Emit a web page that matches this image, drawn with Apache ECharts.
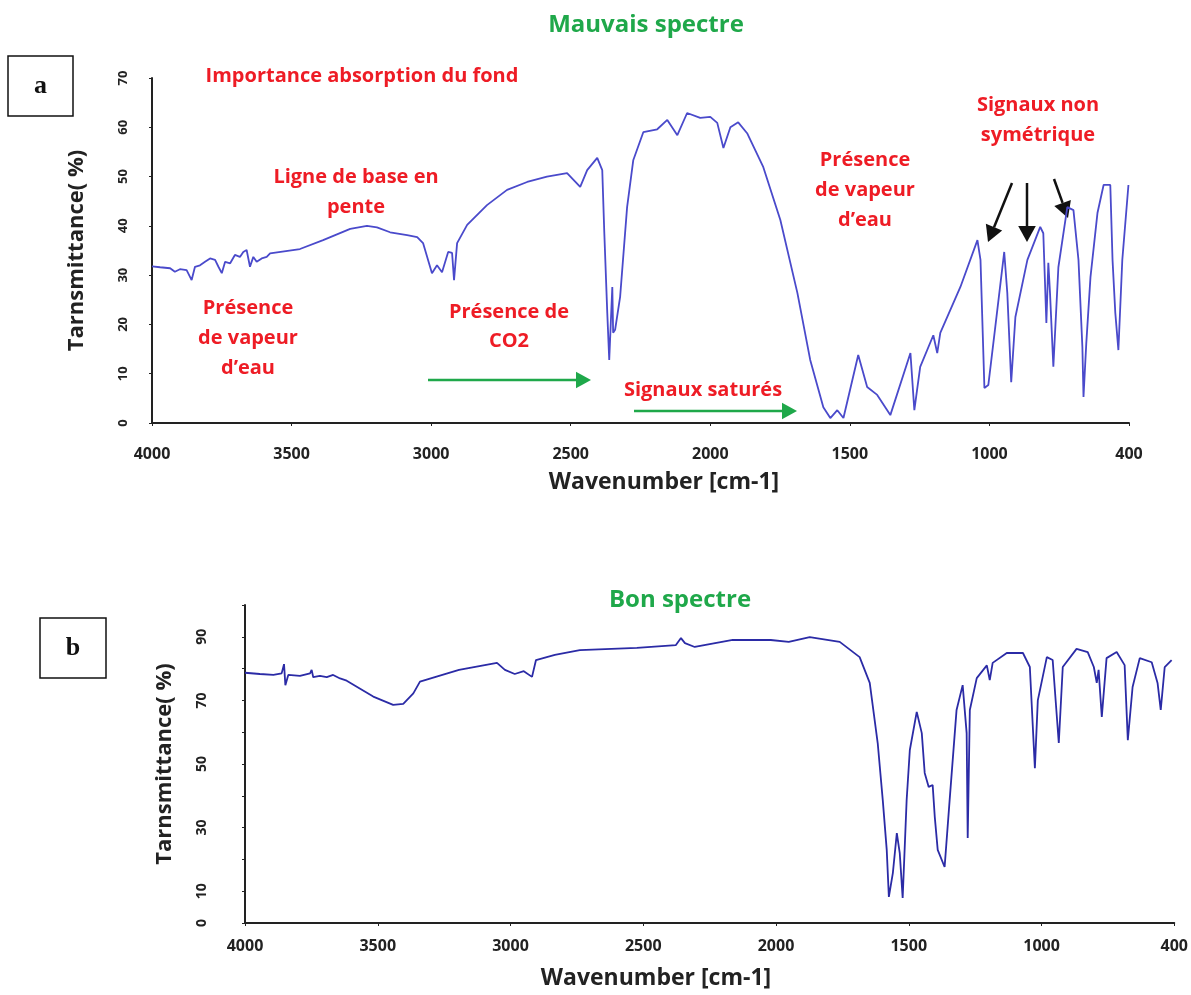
<!DOCTYPE html>
<html>
<head>
<meta charset="utf-8">
<title>Mauvais spectre / Bon spectre</title>
<script src="https://cdn.jsdelivr.net/npm/echarts@6.0.0/dist/echarts.min.js"></script>
<style>
  html, body { margin: 0; padding: 0; background: #fff; }
  #chart { width: 1191px; height: 995px; }
</style>
</head>
<body>
<div id="chart"></div>
<script>
// x ticks: the last tick sits where 500 would be but is labelled 400 in the original figure
var xTicks = [4000, 3500, 3000, 2500, 2000, 1500, 1000, 500]
var xTickLabels = ['4000', '3500', '3000', '2500', '2000', '1500', '1000', '400']
var bottomYLabels = [0, 10, 30, 50, 70, 90]

// spectrum a (mauvais spectre)
var badWn = [4000, 3971, 3935, 3918, 3900, 3876, 3858, 3846, 3828, 3810, 3792, 3774, 3762, 3750, 3738, 3720,
  3703, 3685, 3673, 3661, 3649, 3637, 3625, 3607, 3589, 3577, 3470, 3387, 3290, 3230, 3194, 3147, 3086, 3050,
  3029, 2997, 2979, 2961, 2939, 2925, 2918, 2907, 2871, 2800, 2728, 2656, 2585, 2513, 2466, 2441, 2405, 2387,
  2380, 2369, 2362, 2351, 2348, 2341, 2323, 2298, 2276, 2240, 2190, 2154, 2118, 2083, 2036, 2000, 1975, 1953,
  1928, 1900, 1868, 1810, 1749, 1688, 1642, 1595, 1570, 1545, 1523, 1470, 1438, 1402, 1355, 1283, 1269, 1248,
  1201, 1187, 1176, 1104, 1043, 1032, 1018, 1004, 979, 947, 936, 922, 907, 864, 818, 807, 796, 789, 783, 771,
  753, 721, 699, 681, 667, 663, 653, 638, 613, 591, 567, 559, 549, 538, 524, 502]
var badT = [31.8, 31.6, 31.4, 30.7, 31.2, 31.0, 29.0, 31.7, 32.0, 32.7, 33.4, 33.1, 31.7, 30.4, 32.7, 32.4,
  34.1, 33.7, 34.7, 35.1, 31.7, 33.7, 32.7, 33.4, 33.7, 34.4, 35.3, 37.1, 39.4, 40.0, 39.7, 38.7, 38.1, 37.7,
  36.5, 30.4, 32.0, 30.6, 34.7, 34.5, 29.0, 36.5, 40.2, 44.2, 47.3, 48.9, 50.0, 50.7, 47.9, 51.3, 53.8, 51.3,
  39.1, 22.3, 12.8, 27.6, 18.3, 18.9, 25.6, 43.8, 53.3, 59.0, 59.6, 61.5, 58.4, 62.9, 61.9, 62.1, 60.9, 55.8,
  60.0, 61.0, 58.8, 51.9, 41.2, 26.4, 12.8, 3.2, 1.0, 2.6, 1.0, 13.8, 7.3, 5.7, 1.6, 14.2, 2.6, 11.4,
  17.8, 14.2, 18.3, 27.6, 37.1, 33.1, 7.1, 7.7, 19.5, 34.7, 26.4, 8.3, 21.5, 33.1, 39.8, 38.5, 20.3, 32.5, 26.4, 11.4,
  31.6, 43.8, 43.2, 33.1, 15.4, 5.3, 16.2, 29.6, 42.6, 48.3, 48.3, 33.1, 22.3, 14.8, 33.1, 48.3]

// spectrum b (bon spectre)
var goodWn = [4000, 3944, 3893, 3862, 3853, 3848, 3837, 3793, 3755, 3749, 3743, 3718, 3692, 3668, 3642, 3617,
  3579, 3517, 3442, 3404, 3366, 3341, 3194, 3051, 3021, 2984, 2950, 2919, 2904, 2833, 2739, 2524, 2377, 2358,
  2343, 2306, 2163, 2020, 1952, 1873, 1760, 1685, 1647, 1617, 1598, 1583, 1575, 1560, 1545, 1534, 1523, 1508,
  1496, 1470, 1451, 1440, 1425, 1410, 1402, 1391, 1365, 1346, 1320, 1297, 1282, 1278, 1270, 1244, 1206, 1195,
  1184, 1131, 1070, 1044, 1025, 1014, 980, 958, 935, 920, 868, 826, 803, 792, 785, 773, 755, 717, 687, 675,
  657, 630, 585, 563, 551, 536, 510]
var goodT = [78.7, 78.3, 78.0, 78.5, 81.4, 74.8, 78.0, 77.7, 78.5, 79.6, 77.3, 77.7, 77.3, 78.0, 76.9, 76.2,
  74.3, 71.2, 68.6, 68.9, 72.2, 75.9, 79.6, 81.8, 79.6, 78.3, 79.2, 77.4, 82.7, 84.3, 85.8, 86.5, 87.4, 89.6,
  88.0, 86.8, 89.0, 89.0, 88.4, 89.9, 88.4, 83.6, 75.5, 56.6, 38.7, 23.0, 8.2, 15.7, 28.3, 22.0, 7.9, 38.7,
  54.4, 66.4, 59.7, 47.2, 42.8, 43.4, 33.3, 23.0, 17.6, 38.7, 67.0, 74.8, 59.7, 26.7, 67.0, 77.0, 81.0, 76.4,
  81.8, 84.9, 84.9, 80.5, 48.7, 70.0, 83.6, 82.7, 56.6, 80.5, 86.2, 85.2, 80.5, 75.5, 79.6, 64.8, 83.3, 85.2, 81.1, 57.5,
  74.2, 83.3, 82.0, 75.5, 67.0, 80.5, 82.7]

var RED = '#ee1c25'
var GREEN = '#1fa84a'
var FONT = '"Open Sans", sans-serif'

function pairs (xs, ys) {
  var out = []
  xs.forEach(function (x, i) { out.push([x, ys[i]]) })
  return out
}

function redText (x, y, txt) {
  return {
    type: 'text', x: x, y: y,
    style: { text: txt, fill: RED, font: 'bold 20px ' + FONT, align: 'center', verticalAlign: 'middle' }
  }
}

function arrow (x1, y1, x2, y2, color, w, head) {
  var ang = Math.atan2(y2 - y1, x2 - x1)
  var hl = head
  var hw = head * 0.55
  var bx = x2 - hl * Math.cos(ang)
  var by = y2 - hl * Math.sin(ang)
  var px = -Math.sin(ang) * hw
  var py = Math.cos(ang) * hw
  return {
    type: 'group',
    children: [
      { type: 'line', shape: { x1: x1, y1: y1, x2: bx, y2: by }, style: { stroke: color, lineWidth: w } },
      { type: 'polygon', shape: { points: [[x2, y2], [bx + px, by + py], [bx - px, by - py]] }, style: { fill: color } }
    ]
  }
}

function panelBox (x, y, w, h, letter) {
  return {
    type: 'group',
    children: [
      { type: 'rect', shape: { x: x, y: y, width: w, height: h }, style: { fill: '#fff', stroke: '#111', lineWidth: 1.5 } },
      { type: 'text', x: x + w / 2, y: y + h / 2, style: { text: letter, fill: '#111', font: 'bold 26px "Liberation Serif", serif', align: 'center', verticalAlign: 'middle' } }
    ]
  }
}

function xAxisOpt (grid, margin) {
  return {
    type: 'value',
    gridIndex: grid,
    min: 500,
    max: 4000,
    interval: 500,
    inverse: true,
    splitLine: { show: false },
    axisLine: { show: true, lineStyle: { color: '#222', width: 2 } },
    axisTick: { show: true, length: 3, lineStyle: { color: '#222' } },
    axisLabel: {
      margin: margin,
      color: '#222',
      fontFamily: FONT,
      fontWeight: 'bold',
      fontSize: 16,
      formatter: function (v) {
        var i = xTicks.indexOf(v)
        return i >= 0 ? xTickLabels[i] : ''
      }
    }
  }
}

var chart = echarts.init(document.getElementById('chart'))

var option = {
  backgroundColor: '#fff',
  animation: false,
  grid: [
    { left: 152, top: 78, width: 977, height: 345 },
    { left: 245, top: 605, width: 930, height: 318 }
  ],
  xAxis: [xAxisOpt(0, 23), xAxisOpt(1, 15)],
  yAxis: [
    {
      type: 'value',
      gridIndex: 0,
      min: 0,
      max: 70,
      interval: 10,
      name: 'Tarnsmittance( %)',
      nameLocation: 'middle',
      nameRotate: 90,
      nameGap: 64,
      nameTextStyle: { color: '#222', fontFamily: FONT, fontWeight: 'bold', fontSize: 22 },
      splitLine: { show: false },
      axisLine: { show: true, lineStyle: { color: '#222', width: 2 } },
      axisTick: { show: true, length: 3, lineStyle: { color: '#222' } },
      axisLabel: { rotate: 90, margin: 22, color: '#222', fontFamily: FONT, fontWeight: 'bold', fontSize: 13 }
    },
    {
      type: 'value',
      gridIndex: 1,
      min: 0,
      max: 100,
      interval: 10,
      name: 'Tarnsmittance( %)',
      nameLocation: 'middle',
      nameRotate: 90,
      nameGap: 69,
      nameTextStyle: { color: '#222', fontFamily: FONT, fontWeight: 'bold', fontSize: 22 },
      splitLine: { show: false },
      axisLine: { show: true, lineStyle: { color: '#222', width: 2 } },
      axisTick: { show: true, length: 3, lineStyle: { color: '#222' } },
      axisLabel: {
        rotate: 90,
        margin: 36,
        color: '#222',
        fontFamily: FONT,
        fontWeight: 'bold',
        fontSize: 14,
        formatter: function (v) { return bottomYLabels.indexOf(v) >= 0 ? String(v) : '' }
      }
    }
  ],
  series: [
    {
      name: 'Mauvais spectre',
      type: 'line',
      xAxisIndex: 0,
      yAxisIndex: 0,
      showSymbol: false,
      data: pairs(badWn, badT),
      lineStyle: { color: '#4a4acb', width: 1.8 }
    },
    {
      name: 'Bon spectre',
      type: 'line',
      xAxisIndex: 1,
      yAxisIndex: 1,
      showSymbol: false,
      data: pairs(goodWn, goodT),
      lineStyle: { color: '#2b2ba6', width: 1.8 }
    }
  ],
  graphic: [
    { type: 'text', x: 646, y: 25, style: { text: 'Mauvais spectre', fill: GREEN, font: 'bold 24px ' + FONT, align: 'center', verticalAlign: 'middle' } },
    { type: 'text', x: 680, y: 600, style: { text: 'Bon spectre', fill: GREEN, font: 'bold 24px ' + FONT, align: 'center', verticalAlign: 'middle' } },
    { type: 'text', x: 664, y: 482, style: { text: 'Wavenumber [cm-1]', fill: '#222', font: 'bold 23px ' + FONT, align: 'center', verticalAlign: 'middle' } },
    { type: 'text', x: 656, y: 978, style: { text: 'Wavenumber [cm-1]', fill: '#222', font: 'bold 23px ' + FONT, align: 'center', verticalAlign: 'middle' } },
    panelBox(8, 56, 65, 60, 'a'),
    panelBox(40, 618, 66, 60, 'b'),
    redText(362, 76, 'Importance absorption du fond'),
    redText(356, 177, 'Ligne de base en'),
    redText(356, 207, 'pente'),
    redText(248, 308, 'Présence'),
    redText(248, 338, 'de vapeur'),
    redText(248, 368, 'd’eau'),
    redText(509, 312, 'Présence de'),
    redText(509, 341, 'CO2'),
    redText(703, 390, 'Signaux saturés'),
    redText(865, 160, 'Présence'),
    redText(865, 190, 'de vapeur'),
    redText(865, 220, 'd’eau'),
    redText(1038, 105, 'Signaux non'),
    redText(1038, 135, 'symétrique'),
    arrow(428, 380, 591, 380, GREEN, 2.5, 15),
    arrow(634, 411, 797, 411, GREEN, 2.5, 15),
    arrow(1012, 183, 988, 242, '#111', 2.5, 16),
    arrow(1027, 183, 1027, 242, '#111', 2.5, 16),
    arrow(1054, 179, 1068, 218, '#111', 2.5, 16)
  ]
}

chart.setOption(option)
</script>
</body>
</html>
